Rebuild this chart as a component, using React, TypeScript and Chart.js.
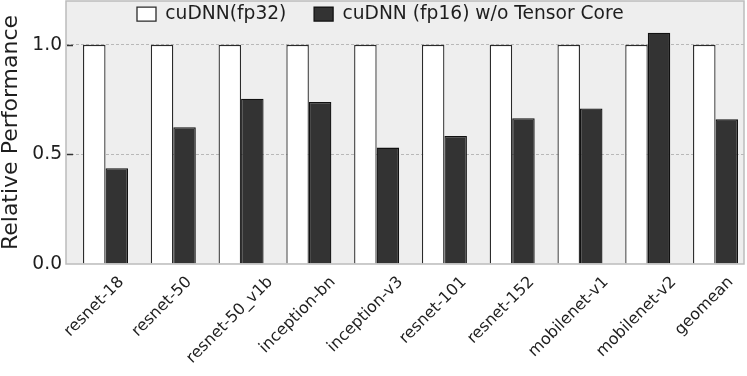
import React, { useEffect, useRef } from "react";
import { Chart, registerables } from "chart.js";

Chart.register(...registerables);

const categories = [
  "resnet-18",
  "resnet-50",
  "resnet-50_v1b",
  "inception-bn",
  "inception-v3",
  "resnet-101",
  "resnet-152",
  "mobilenet-v1",
  "mobilenet-v2",
  "geomean",
];
const fp32Values = [1.0, 1.0, 1.0, 1.0, 1.0, 1.0, 1.0, 1.0, 1.0, 1.0];
const fp16Values = [0.437, 0.624, 0.754, 0.739, 0.531, 0.584, 0.665, 0.71, 1.055, 0.66];
const yTicks = [0, 0.5, 1.0];
const seriesNames = ["cuDNN(fp32)", "cuDNN (fp16) w/o Tensor Core"];

const FONT = "'DejaVu Sans', 'Liberation Sans', sans-serif";
const TEXT = "#1e1e1e";
const LEGEND_PAD = 27.7;

const customPlugin = {
  id: "customLook",
  beforeUpdate(chart: any) {
    const lg = chart.legend;
    if (lg && !lg._wrappedFit) {
      const orig = lg.fit;
      lg.fit = function (this: any) {
        orig.call(this);
        this._realH = this.height;
        this.height = 0;
      };
      lg._wrappedFit = true;
    }
  },
  beforeDraw(chart: any) {
    const { ctx, chartArea } = chart;
    ctx.save();
    ctx.fillStyle = "#eeeeee";
    ctx.fillRect(chartArea.left, chartArea.top, chartArea.right - chartArea.left, chartArea.bottom - chartArea.top);
    ctx.restore();
  },
  afterLayout(chart: any) {
    const lg = chart.legend;
    if (!lg) return;
    const lw = lg.lineWidths && lg.lineWidths[0];
    if (lw) {
      const x0 = (lg.left + LEGEND_PAD + lg.right - lw) / 2;
      const dx = 137 - x0;
      lg.left += dx;
      lg.right += dx;
    }
    const h = lg._realH || 60;
    lg.top = chart.chartArea.top + 3.7 - LEGEND_PAD;
    lg.height = h;
    lg.bottom = lg.top + h;
  },
  afterDatasetsDraw(chart: any) {
    const { ctx, chartArea, scales } = chart;
    ctx.save();
    ctx.strokeStyle = "#333333";
    ctx.lineWidth = 1.5;
    yTicks.forEach((v) => {
      if (v === 0) return;
      const y = Math.round(scales.y.getPixelForValue(v)) + 0.5;
      ctx.beginPath();
      ctx.moveTo(chartArea.left + 1, y);
      ctx.lineTo(chartArea.left + 7, y);
      ctx.stroke();
    });
    ctx.strokeStyle = "#bcbcbc";
    ctx.lineWidth = 1.5;
    ctx.strokeRect(chartArea.left, chartArea.top, chartArea.right - chartArea.left, chartArea.bottom - chartArea.top);
    ctx.restore();
  },
  afterDraw(chart: any) {
    const { ctx, chartArea, scales } = chart;
    const xs = scales.x;
    const meta = chart.getDatasetMeta(0);
    ctx.save();
    ctx.font = `16px ${FONT}`;
    ctx.fillStyle = TEXT;
    ctx.textAlign = "center";
    ctx.textBaseline = "middle";
    categories.forEach((label, i) => {
      const bar = meta.data[i];
      const cx = bar ? bar.x : xs.getPixelForValue(i);
      const w = ctx.measureText(label).width;
      const h = 18;
      const side = (w + h) / Math.SQRT2;
      const top = chartArea.bottom + 9.3;
      const cy = top + side / 2;
      ctx.save();
      ctx.translate(cx, cy);
      ctx.rotate(-Math.PI / 4);
      ctx.fillText(label, 0, 0);
      ctx.restore();
    });
    ctx.restore();
  },
};

export default function App() {
  const canvasRef = useRef<HTMLCanvasElement | null>(null);

  useEffect(() => {
    document.body.style.margin = "0";
    const canvas = canvasRef.current;
    if (!canvas) return;
    Chart.defaults.font.family = FONT;

    const chart = new Chart(canvas, {
      type: "bar",
      data: {
        datasets: [
          {
            label: seriesNames[0],
            data: fp32Values.map((v, i) => ({ x: i, y: v })),
            backgroundColor: "#ffffff",
            borderColor: "#2a2a2a",
            borderWidth: 1.3,
          },
          {
            label: seriesNames[1],
            data: fp16Values.map((v, i) => ({ x: i, y: v })),
            backgroundColor: "#333333",
            borderColor: "#111111",
            borderWidth: 1.3,
          },
        ],
      },
      options: {
        animation: false,
        responsive: false,
        devicePixelRatio: 1,
        layout: { padding: { left: 0, top: 1, right: 3, bottom: 112 } },
        datasets: {
          bar: { categoryPercentage: 0.664, barPercentage: 1 },
        },
        scales: {
          x: {
            type: "linear",
            min: -0.583,
            max: 9.42,
            offset: false,
            display: false,
          },
          y: {
            min: 0,
            max: 1.2,
            afterFit(scale: any) {
              scale.width = 66;
              scale.paddingTop = 0;
              scale.paddingBottom = 0;
            },
            afterBuildTicks(scale: any) {
              scale.ticks = yTicks.map((v) => ({ value: v }));
            },
            ticks: {
              padding: 4,
              color: TEXT,
              font: { size: 18.67, family: FONT },
              callback: (v: any) => Number(v).toFixed(1),
            },
            grid: {
              drawTicks: false,
              color: (ctx: any) => (ctx.tick && ctx.tick.value === 0 ? "rgba(0,0,0,0)" : "#b8b8b8"),
              lineWidth: 1,
            },
            border: { display: false, dash: [3, 2] },
            title: {
              display: true,
              text: "Relative Performance",
              color: TEXT,
              font: { size: 22, family: FONT, lineHeight: 1 },
              padding: { top: 0, bottom: 0 },
            },
          },
        },
        plugins: {
          legend: {
            position: "top",
            align: "center",
            labels: {
              boxWidth: 19,
              boxHeight: 14,
              padding: LEGEND_PAD,
              color: TEXT,
              font: { size: 18.67, family: FONT },
            },
          },
          tooltip: { enabled: false },
        },
      },
      plugins: [customPlugin],
    });
    return () => chart.destroy();
  }, []);

  return (
    <div style={{ width: 747, height: 376 }}>
      <canvas ref={canvasRef} width={747} height={376} />
    </div>
  );
}
